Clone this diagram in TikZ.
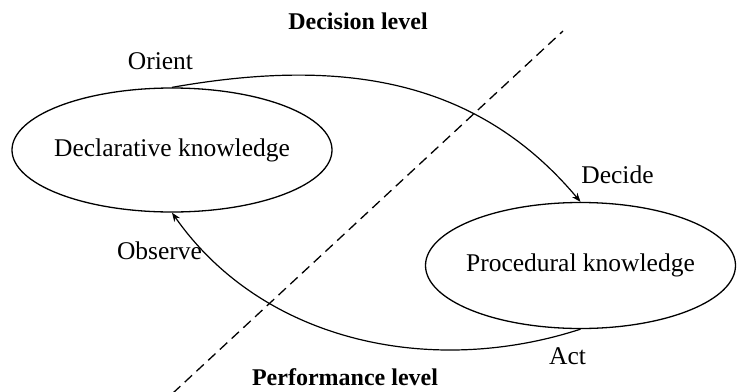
\documentclass[tikz,border=0pt]{standalone}
\usepackage{fontspec}
\setmainfont{Liberation Serif}
\usetikzlibrary{shapes.geometric,arrows.meta,positioning}

\begin{document}
\begin{tikzpicture}[x=0.5pt,y=-0.5pt,line width=0.65pt,
  font=\fontsize{12.75}{15}\selectfont,
  knode/.style={draw,ellipse,inner ysep=0pt},
  lvl/.style={font=\fontsize{12}{14}\selectfont\bfseries},
  lab/.style={inner sep=1pt},
  arr/.style={-{Stealth[length=4.5pt,width=3.4pt]},line width=0.6pt},
  sep/.style={dash pattern=on 5pt off 3pt}]

  \useasboundingbox (0,0) rectangle (737,391);

  \node[knode,inner xsep=-3pt,minimum width=160pt,minimum height=62pt] (decl) at (172,150) {Declarative knowledge};
  \node[knode,inner xsep=-2.7pt,minimum width=155pt,minimum height=63pt] (proc) at (580.5,265.5) {Procedural knowledge};

  % dashed border between the two levels
  \coordinate (sepa) at (173,393);
  \coordinate (sepb) at (563,31);
  \draw[sep] (sepa) -- (sepb);

  \node[lvl] (declvl) at (358,21) {Decision level};
  \node[lvl] (perflvl) at (345,377) {Performance level};

  % draw the loop
  \draw[arr] (decl.north) to[out=10,in=130] (proc.north);
  \draw[arr] (proc.south) to[out=198,in=-55,looseness=0.95] (decl.south);

  % labels of the loop
  \node[lab] (orient) at (160.5,61) {Orient};
  \node[lab] (decide) at (617.5,175) {Decide};
  \node[lab] (observe) at (159.5,251) {Observe};
  \node[lab] (act) at (567.5,356) {Act};

\end{tikzpicture}
\end{document}
